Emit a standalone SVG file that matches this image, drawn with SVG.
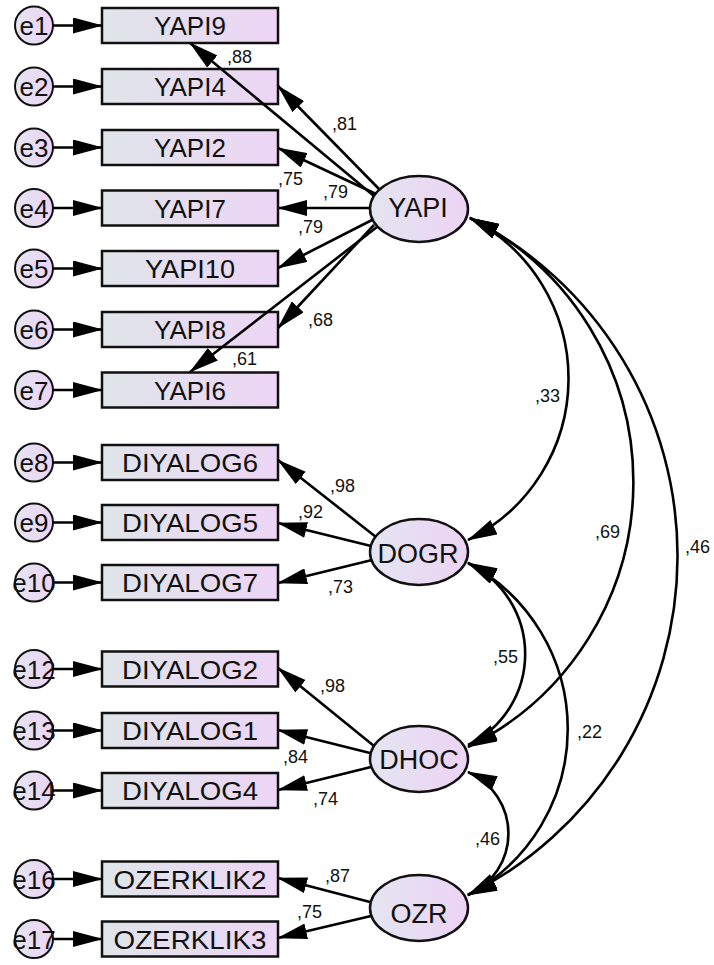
<svg xmlns="http://www.w3.org/2000/svg" width="714" height="965" viewBox="0 0 714 965">
<defs>
<linearGradient id="gb" x1="0" y1="0" x2="1" y2="0">
<stop offset="0" stop-color="#dfe5e9"/>
<stop offset="1" stop-color="#edd5f6"/>
</linearGradient>
<linearGradient id="ge" x1="0" y1="0" x2="1" y2="0">
<stop offset="0" stop-color="#e3e5f1"/>
<stop offset="1" stop-color="#edd3f5"/>
</linearGradient>
<marker id="ah" markerUnits="userSpaceOnUse" markerWidth="30" markerHeight="16" viewBox="0 0 30 16" refX="29" refY="8" orient="auto-start-reverse">
<path d="M0,0 L30,8 L0,16 z" fill="#000"/>
</marker>
</defs>
<style>
.box{fill:url(#gb);stroke:#111;stroke-width:2.5}
.lat{fill:url(#ge);stroke:#111;stroke-width:2.5}
.err{fill:url(#ge);stroke:#111;stroke-width:2}
.bt{font-family:"Liberation Sans",Arial,sans-serif;font-size:26px;text-anchor:middle;fill:#111}
.lt{font-family:"Liberation Sans",Arial,sans-serif;font-size:27px;text-anchor:middle;fill:#111}
.et{font-family:"Liberation Sans",Arial,sans-serif;font-size:26px;text-anchor:middle;fill:#111}
.lab{font-family:"Liberation Sans",Arial,sans-serif;font-size:18px;fill:#111}
.c{fill:none;stroke:#000;stroke-width:2.6;marker-end:url(#ah)}
.cv{fill:none;stroke:#000;stroke-width:2.6;marker-start:url(#ah);marker-end:url(#ah)}
</style>
<rect width="714" height="965" fill="#fff"/>
<g id="nodes">
<g id="e1"><circle class="err" cx="34" cy="25.5" r="19"/><text class="et" x="34" y="35">e1</text></g>
<g id="e2"><circle class="err" cx="34" cy="86.5" r="19"/><text class="et" x="34" y="96">e2</text></g>
<g id="e3"><circle class="err" cx="34" cy="147.5" r="19"/><text class="et" x="34" y="157">e3</text></g>
<g id="e4"><circle class="err" cx="34" cy="208" r="19"/><text class="et" x="34" y="217.5">e4</text></g>
<g id="e5"><circle class="err" cx="34" cy="268.5" r="19"/><text class="et" x="34" y="278">e5</text></g>
<g id="e6"><circle class="err" cx="34" cy="329.5" r="19"/><text class="et" x="34" y="339">e6</text></g>
<g id="e7"><circle class="err" cx="34" cy="390" r="19"/><text class="et" x="34" y="399.5">e7</text></g>
<g id="e8"><circle class="err" cx="34" cy="462.5" r="19"/><text class="et" x="34" y="472">e8</text></g>
<g id="e9"><circle class="err" cx="34" cy="522.5" r="19"/><text class="et" x="34" y="532">e9</text></g>
<g id="e10"><circle class="err" cx="34" cy="582.5" r="19"/><text class="et" x="34" y="592">e10</text></g>
<g id="e12"><circle class="err" cx="34" cy="669" r="19"/><text class="et" x="34" y="678.5">e12</text></g>
<g id="e13"><circle class="err" cx="34" cy="730.5" r="19"/><text class="et" x="34" y="740">e13</text></g>
<g id="e14"><circle class="err" cx="34" cy="790.5" r="19"/><text class="et" x="34" y="800">e14</text></g>
<g id="e16"><circle class="err" cx="34" cy="879" r="19"/><text class="et" x="34" y="888.5">e16</text></g>
<g id="e17"><circle class="err" cx="34" cy="939" r="19"/><text class="et" x="34" y="948.5">e17</text></g>

<g id="YAPI9"><rect class="box" x="102" y="8" width="176" height="35"/><text class="bt" x="190" y="35">YAPI9</text></g>
<g id="YAPI4"><rect class="box" x="102" y="69" width="176" height="35"/><text class="bt" x="190" y="96">YAPI4</text></g>
<g id="YAPI2"><rect class="box" x="102" y="130" width="176" height="35"/><text class="bt" x="190" y="157">YAPI2</text></g>
<g id="YAPI7"><rect class="box" x="102" y="190.5" width="176" height="35"/><text class="bt" x="190" y="217.5">YAPI7</text></g>
<g id="YAPI10"><rect class="box" x="102" y="251" width="176" height="35"/><text class="bt" x="190" y="278" textLength="90" lengthAdjust="spacingAndGlyphs">YAPI10</text></g>
<g id="YAPI8"><rect class="box" x="102" y="312" width="176" height="35"/><text class="bt" x="190" y="339">YAPI8</text></g>
<g id="YAPI6"><rect class="box" x="102" y="372.5" width="176" height="35"/><text class="bt" x="190" y="399.5">YAPI6</text></g>
<g id="DIYALOG6"><rect class="box" x="102" y="445" width="176" height="35"/><text class="bt" x="190" y="472" textLength="136" lengthAdjust="spacingAndGlyphs">DIYALOG6</text></g>
<g id="DIYALOG5"><rect class="box" x="102" y="505" width="176" height="35"/><text class="bt" x="190" y="532" textLength="136" lengthAdjust="spacingAndGlyphs">DIYALOG5</text></g>
<g id="DIYALOG7"><rect class="box" x="102" y="565" width="176" height="35"/><text class="bt" x="190" y="592" textLength="136" lengthAdjust="spacingAndGlyphs">DIYALOG7</text></g>
<g id="DIYALOG2"><rect class="box" x="102" y="651.5" width="176" height="35"/><text class="bt" x="190" y="678.5" textLength="136" lengthAdjust="spacingAndGlyphs">DIYALOG2</text></g>
<g id="DIYALOG1"><rect class="box" x="102" y="713" width="176" height="35"/><text class="bt" x="190" y="740" textLength="136" lengthAdjust="spacingAndGlyphs">DIYALOG1</text></g>
<g id="DIYALOG4"><rect class="box" x="102" y="773" width="176" height="35"/><text class="bt" x="190" y="800" textLength="136" lengthAdjust="spacingAndGlyphs">DIYALOG4</text></g>
<g id="OZERKLIK2"><rect class="box" x="102" y="861.5" width="176" height="35"/><text class="bt" x="190" y="888.5" textLength="153" lengthAdjust="spacingAndGlyphs">OZERKLIK2</text></g>
<g id="OZERKLIK3"><rect class="box" x="102" y="921.5" width="176" height="35"/><text class="bt" x="190" y="948.5" textLength="153" lengthAdjust="spacingAndGlyphs">OZERKLIK3</text></g>

<g id="YAPI"><ellipse class="lat" cx="419" cy="209" rx="49" ry="33"/><text class="lt" x="418" y="217">YAPI</text></g>
<g id="DOGR"><ellipse class="lat" cx="419" cy="552" rx="49" ry="33"/><text class="lt" x="418" y="563">DOGR</text></g>
<g id="DHOC"><ellipse class="lat" cx="419" cy="759" rx="49" ry="33"/><text class="lt" x="419" y="769">DHOC</text></g>
<g id="OZR"><ellipse class="lat" cx="419" cy="908" rx="49" ry="33"/><text class="lt" x="419" y="923">OZR</text></g>
</g>

<g id="connectors">
<path class="c" d="M53,25.5 H102"/>
<path class="c" d="M53,86.5 H102"/>
<path class="c" d="M53,147.5 H102"/>
<path class="c" d="M53,208 H102"/>
<path class="c" d="M53,268.5 H102"/>
<path class="c" d="M53,329.5 H102"/>
<path class="c" d="M53,390 H102"/>
<path class="c" d="M53,462.5 H102"/>
<path class="c" d="M53,522.5 H102"/>
<path class="c" d="M53,582.5 H102"/>
<path class="c" d="M53,669 H102"/>
<path class="c" d="M53,730.5 H102"/>
<path class="c" d="M53,790.5 H102"/>
<path class="c" d="M53,879 H102"/>
<path class="c" d="M53,939 H102"/>

<path class="c" d="M374,196 L190,43"/>
<path class="c" d="M379,189 L278,86"/>
<path class="c" d="M376,194 L278,148"/>
<path class="c" d="M370,208 L278,208"/>
<path class="c" d="M372,220 L278,268"/>
<path class="c" d="M374,225 L278,328"/>
<path class="c" d="M377,227 L190,372"/>

<path class="c" d="M376,537 L278,460"/>
<path class="c" d="M371,546 L278,523"/>
<path class="c" d="M372,560 L278,583"/>

<path class="c" d="M374,746 L278,668"/>
<path class="c" d="M370,753 L278,730"/>
<path class="c" d="M371,767 L278,790"/>

<path class="c" d="M370,902 L278,878"/>
<path class="c" d="M371,916 L278,938"/>

<path class="cv" d="M470,218 A180,180 0 0 1 468,540"/>
<path class="cv" d="M470,218 A295,295 0 0 1 468,747"/>
<path class="cv" d="M470,218 A379,379 0 0 1 468,895"/>
<path class="cv" d="M468,563 A101,101 0 0 1 468,745"/>
<path class="cv" d="M468,563 A188,188 0 0 1 468,895"/>
<path class="cv" d="M468,772 A67,67 0 0 1 468,895"/>

<text class="lab" x="227" y="63">,88</text>
<text class="lab" x="332" y="130">,81</text>
<text class="lab" x="278" y="185">,75</text>
<text class="lab" x="323" y="198">,79</text>
<text class="lab" x="298" y="233">,79</text>
<text class="lab" x="308" y="326">,68</text>
<text class="lab" x="232" y="365">,61</text>
<text class="lab" x="330" y="492">,98</text>
<text class="lab" x="298" y="518">,92</text>
<text class="lab" x="328" y="593">,73</text>
<text class="lab" x="320" y="692">,98</text>
<text class="lab" x="283" y="763">,84</text>
<text class="lab" x="313" y="805">,74</text>
<text class="lab" x="325" y="882">,87</text>
<text class="lab" x="297" y="918">,75</text>
<text class="lab" x="535" y="402">,33</text>
<text class="lab" x="595" y="538">,69</text>
<text class="lab" x="685" y="553">,46</text>
<text class="lab" x="493" y="663">,55</text>
<text class="lab" x="577" y="738">,22</text>
<text class="lab" x="475" y="845">,46</text>
</g>
</svg>
